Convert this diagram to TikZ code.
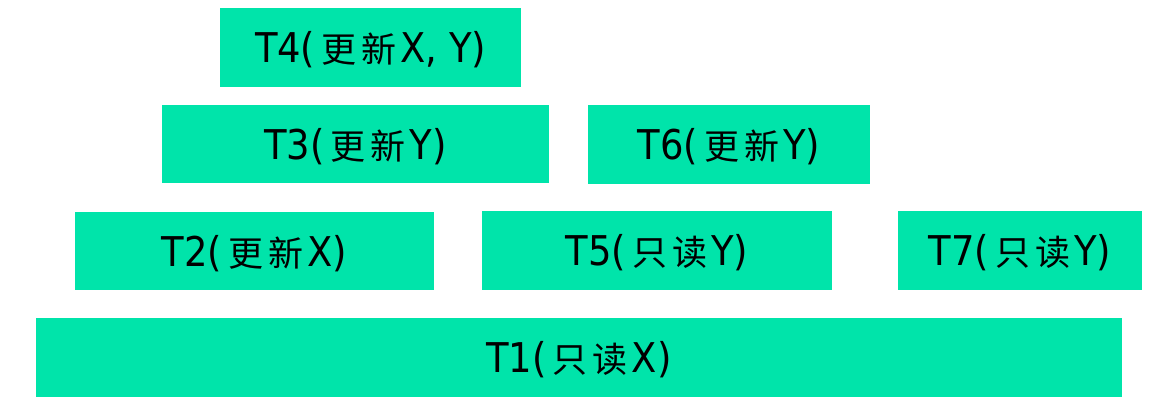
\documentclass[tikz,border=0pt]{standalone}
\usepackage{fontspec}
\setmainfont{DejaVu Sans Condensed}
\newfontfamily\cjk{Noto Sans CJK SC}
\definecolor{boxgreen}{RGB}{0,228,170}
\newcommand{\zh}[2]{\hspace{6pt}{\cjk\fontsize{35}{40}\selectfont #1\hspace{5pt}#2}\hspace{4pt}}
\tikzset{
  tbox/.style={fill=boxgreen, draw=none, inner sep=0pt, text height=30pt, text depth=0pt,
    font=\fontsize{41}{48}\selectfont, text=black}
}
\newcommand{\tb}[6]{% name, x1, x2, y1, y2, text
  \node[tbox, minimum width={(#3-#2)*1pt}, minimum height={(#5-#4)*1pt}]
    (#1) at ({(#2+#3)/2*1pt},{-(#4+#5)/2*1pt}) {#6};}
\begin{document}
\begin{tikzpicture}
\useasboundingbox (0,0) rectangle (1155pt,-405pt);
\tb{t4}{220}{521}{8}{87}{T4(\zh{更}{新}X, Y)}
\tb{t3}{162}{549}{105}{183}{T3(\zh{更}{新}Y)}
\tb{t6}{588}{870}{105}{184}{T6(\zh{更}{新}Y)}
\tb{t2}{75}{434}{212}{290}{T2(\zh{更}{新}X)}
\tb{t5}{482}{832}{211}{290}{T5(\zh{只}{读}Y)}
\tb{t7}{898}{1142}{211}{290}{T7(\zh{只}{读}Y)}
\tb{t1}{36}{1122}{318}{397}{T1(\zh{只}{读}X)}
\end{tikzpicture}
\end{document}
